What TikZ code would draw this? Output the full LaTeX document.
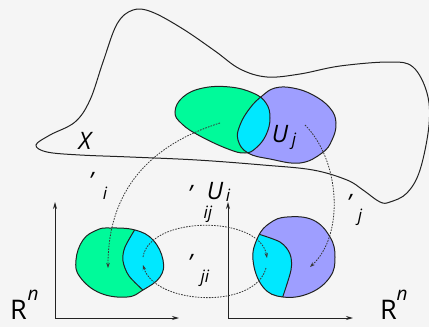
\documentclass[tikz,border=0pt]{standalone}
\usepackage{fontspec}
\setmainfont{Open Sans}
\usetikzlibrary{arrows.meta}
\definecolor{bg}{HTML}{F5F5F5}
\definecolor{grn}{HTML}{00FA9A}
\definecolor{blu}{HTML}{9E9EFF}
\definecolor{cyn}{HTML}{00E8FF}
\definecolor{ink}{HTML}{222222}
\def\pGreen{plot[smooth cycle,tension=0.7] coordinates{(175,112)(183,97)(203,88)(230,87)(253,93)(266,103)(270,118)(266,135)(256,148)(245,153)(228,149)(200,136)(182,124)}}
\def\pBlue{plot[smooth cycle,tension=0.7] coordinates{(262,96)(275,88)(293,88)(313,95)(330,108)(336,123)(332,140)(322,153)(300,163)(270,159)(248,153)(238,140)(240,125)(250,108)}}
\def\pLeft{plot[smooth cycle,tension=0.7] coordinates{(110,228)(135,230)(153,240)(163,260)(160,277)(143,290)(127,297)(100,293)(80,277)(76,260)(83,240)(97,230)}}
\def\pRight{plot[smooth cycle,tension=0.7] coordinates{(287,217)(313,220)(330,237)(335,257)(330,277)(310,293)(283,297)(263,287)(253,260)(258,237)(270,223)}}
\def\pLcut{plot[smooth] coordinates{(137,226)(125,247)(123,261)(129,276)(145,292)}}
\def\pRcut{plot[smooth] coordinates{(255,233)(280,242)(290,254)(291,270)(282,299)}}
\begin{document}
\begin{tikzpicture}[x=1pt,y=-1pt,
  outline/.style={draw=ink,line width=1pt},
  mapline/.style={draw=ink!90,line width=0.8pt,dash pattern=on 1.6pt off 1.2pt,-{Stealth[length=5pt,width=3.5pt]}},
  axisline/.style={draw=ink,line width=0.9pt,-{Stealth[length=7pt,width=4pt]}},
  lbl/.style={inner sep=0pt,font=\fontsize{24}{24}\selectfont\itshape},
  sublbl/.style={inner sep=0pt,font=\fontsize{17}{17}\selectfont\itshape},
  rlbl/.style={inner sep=0pt,font=\fontsize{27}{27}\selectfont}]
\useasboundingbox (0,0) rectangle (429,327);
\fill[bg] (0,0) rectangle (429,327);
% manifold X
\draw[outline] plot[smooth cycle,tension=0.6] coordinates{(36,145)(50,135)(75,122)(90,100)(103,62)(117,24)(133,10)(152,12)(183,29)(215,51)(240,69)(267,77)(300,74)(340,66)(390,62)(413,67)(427,93)(429,125)(420,170)(407,193)(390,202)(380,202)(363,190)(347,180)(313,170)(263,165)(197,160)(130,157)(80,155)(47,152)};
% charts on X
\fill[grn] \pGreen;
\fill[blu] \pBlue;
\begin{scope}
\clip \pGreen;
\fill[cyn] \pBlue;
\end{scope}
\draw[outline] \pGreen;
\draw[outline] \pBlue;
% left image
\fill[grn] \pLeft;
\begin{scope}
\clip \pLeft;
\fill[cyn] \pLcut -- (175,300) -- (175,220) -- cycle;
\draw[outline] \pLcut;
\end{scope}
\draw[outline] \pLeft;
% right image
\fill[blu] \pRight;
\begin{scope}
\clip \pRight;
\fill[cyn] \pRcut -- (240,300) -- (240,220) -- cycle;
\draw[outline] \pRcut;
\end{scope}
\draw[outline] \pRight;
% axes
\coordinate (oL) at (55,318);
\coordinate (yL) at (55,202);
\coordinate (xL) at (179,318);
\coordinate (oR) at (228,318);
\coordinate (yR) at (228,202);
\coordinate (xR) at (353,318);
\draw[axisline] (oL) -- (yL);
\draw[axisline] (oL) -- (xL);
\draw[axisline] (oR) -- (yR);
\draw[axisline] (oR) -- (xR);
% maps
\coordinate (ms1) at (220,123);
\coordinate (me1) at (108,268);
\coordinate (ms2) at (305,125);
\coordinate (me2) at (310,267);
\coordinate (ms3) at (143,257);
\coordinate (me3) at (267,258);
\coordinate (ms4) at (266,268);
\coordinate (me4) at (143,265);
\draw[mapline] (ms1) .. controls (150,145) and (108,190) .. (me1);
\draw[mapline] (ms2) .. controls (340,160) and (345,235) .. (me2);
\draw[mapline] (ms3) .. controls (150,215) and (260,215) .. (me3);
\draw[mapline] (ms4) .. controls (255,310) and (155,305) .. (me4);
% labels
\node[lbl] (X) at (85,141) {X};
\node[lbl] (Uj) at (280,134) {U};
\node[sublbl] (Ujs) at (294,141) {j};
\node[lbl] (ai) at (91,181) {’};
\node[sublbl] (ai2) at (105,193) {i};
\node[lbl] (aj) at (349,203) {’};
\node[sublbl] (aj2) at (360,217) {j};
\node[lbl] (aij) at (190,194) {’};
\node[sublbl] (aij2) at (208,214) {ij};
\node[lbl] (Ui) at (215,191) {U};
\node[sublbl] (Uis) at (228,195) {i};
\node[lbl] (aji) at (190,263) {’};
\node[sublbl] (aji2) at (205,278) {ji};
\node[rlbl,anchor=base west] (RL) at (10,319) {R};
\node[inner sep=0pt,font=\fontsize{19}{19}\selectfont\itshape] (RLn) at (33,295) {n};
\node[rlbl,anchor=base west] (RR) at (380,319) {R};
\node[inner sep=0pt,font=\fontsize{19}{19}\selectfont\itshape] (RRn) at (402,295) {n};
\end{tikzpicture}
\end{document}
